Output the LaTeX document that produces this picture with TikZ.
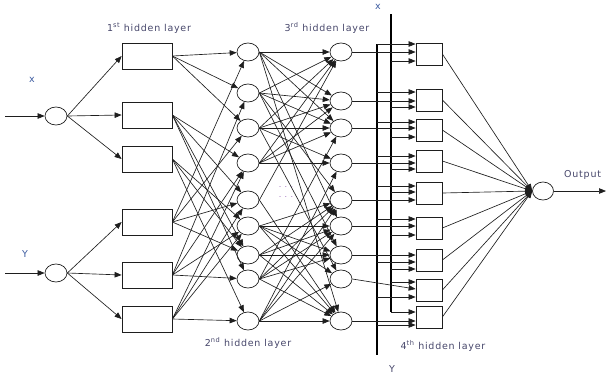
\documentclass[tikz,border=0pt]{standalone}
\usepackage{fontspec}
\setmainfont{DejaVu Sans}
\newfontfamily\lblfont[LetterSpace=8]{DejaVu Sans}
\usetikzlibrary{arrows.meta,shapes.geometric,calc}
\definecolor{lbl}{HTML}{46466A}
\definecolor{inlbl}{HTML}{3D5CA0}
\definecolor{dotc}{HTML}{A070C0}
\definecolor{ln}{HTML}{1E1E1E}
\begin{document}
\begin{tikzpicture}[x=1pt,y=-1pt,
 neuron/.style={draw=ln, ellipse, minimum width=22pt, minimum height=18pt, inner sep=0pt, line width=0.7pt},
 hbox/.style={draw=ln, rectangle, minimum width=50pt, minimum height=26pt, inner sep=0pt, line width=0.75pt},
 sbox/.style={draw=ln, rectangle, minimum width=26pt, minimum height=22pt, inner sep=0pt, line width=0.75pt},
 conn/.style={draw=ln, line width=0.65pt, -{Triangle[length=7pt,width=5.5pt]}},
 bus/.style={draw=black, line width=1.1pt},
 lab/.style={font=\lblfont\fontsize{9.5}{11}\selectfont, text=lbl, inner sep=0pt},
 inl/.style={font=\lblfont\fontsize{9.5}{11}\selectfont, text=inlbl, inner sep=0pt},
 dots/.style={font=\fontsize{8}{9}\selectfont, text=dotc, inner sep=0pt},
]
\useasboundingbox (0,0) rectangle (608,376);

% input neurons
\node[neuron] (inX) at (56,116) {};
\node[neuron] (inY) at (56,273) {};
\coordinate (srcX) at (5,116);
\coordinate (srcY) at (5,273);

% layer 1 boxes
\foreach \i/\y in {1/56,2/115,3/159,4/222,5/275,6/319}
  \node[hbox] (A\i) at (147,\y) {};
% layer 2 neurons
\foreach \i/\y in {1/52,2/93,3/128,4/163,5/200,6/226,7/255,8/279,9/321}
  \node[neuron] (B\i) at (248,\y) {};
% layer 3 neurons
\foreach \i/\y in {1/52,2/101,3/128,4/163,5/200,6/226,7/255,8/279,9/321}
  \node[neuron] (C\i) at (341,\y) {};
% layer 4 boxes
\foreach \i/\y in {1/54,2/100,3/130,4/161,5/193,6/228,7/260,8/290,9/317}
  \node[sbox] (D\i) at (429,\y) {};
% output
\node[neuron, minimum width=21pt] (out) at (543,191) {};
\coordinate (outend) at (606,191);

% buses
\coordinate (Ytop) at (377,44);
\coordinate (Ybot) at (377,355);
\coordinate (Xtop) at (391,14);
\coordinate (Xbot) at (391,312);
\draw[bus] (Ytop) -- (Ybot);
\draw[bus] (Xtop) -- (Xbot);

% labels
\node[inl] at (32,80) {x};
\node[inl] at (25,254) {Y};
\node[lab] at (149,28) {1\textsuperscript{st} hidden layer};
\node[lab] at (327,28) {3\textsuperscript{rd} hidden layer};
\node[lab] at (248,343) {2\textsuperscript{nd} hidden layer};
\node[lab] at (443,346) {4\textsuperscript{th} hidden layer};
\node[inl] at (378,7) {x};
\node[lab] at (392,369) {Y};
\node[lab, anchor=west] at (564,175) {Output};
\node[dots] at (286,187) {. . .};
\node[dots] at (286,197) {. . .};

% input arrows
\draw[conn] (srcX) -- (inX);
\draw[conn] (srcY) -- (inY);
\foreach \j in {1,2,3} \draw[conn] (inX.east) -- (A\j.west);
\foreach \j in {4,5,6} \draw[conn] (inY.east) -- (A\j.west);

% layer 1 -> layer 2
\foreach \i/\j in {1/1,1/2,1/3, 2/4,2/5,2/7,2/8, 3/6,3/7,3/9, 4/1,4/3,4/5,4/7, 5/2,5/4,5/6,5/8, 6/4,6/5,6/6,6/9}
  \draw[conn] (A\i.east) -- (B\j);

% layer 2 -> layer 3
\foreach \i/\j in {1/1,1/2,1/3,1/6,1/9, 2/1,2/2,2/3,2/5,2/7, 3/1,3/2,3/3,3/4,3/8, 4/1,4/2,4/3,4/4, 5/1,5/9, 6/5,6/6,6/7,6/8,6/9, 7/5,7/6,7/7,7/9, 8/3,8/5,8/6,8/7,8/9, 9/4,9/5,9/6,9/8,9/9}
  \draw[conn] (B\i.east) -- (C\j);

% layer 3 -> layer 4 (horizontal)
\foreach \i in {1,2,3,4,5,6,7,9}
  \draw[conn] (C\i.east) -- (C\i.east -| D\i.west);
\coordinate (t8) at (0,289);
\draw[conn] (C8.east) -- (D8.west |- t8);

% Y bus taps
\foreach \i/\y in {1/44,2/92,3/122,4/156,5/186,6/219,7/262,8/297,9/325} {
  \coordinate (ty) at (0,\y);
  \draw[conn] (Ytop |- ty) -- (D\i.west |- ty);
}
% X bus taps
\foreach \i/\y in {1/61,2/107,3/137,4/169,5/192,6/235,7/269,8/282,9/312} {
  \coordinate (tx) at (0,\y);
  \draw[conn] (Xtop |- tx) -- (D\i.west |- tx);
}

% layer 4 -> output
\foreach \i in {1,...,9}
  \draw[conn] (D\i.east) -- (out.west);
\draw[conn] (out.east) -- (outend);
\end{tikzpicture}
\end{document}
